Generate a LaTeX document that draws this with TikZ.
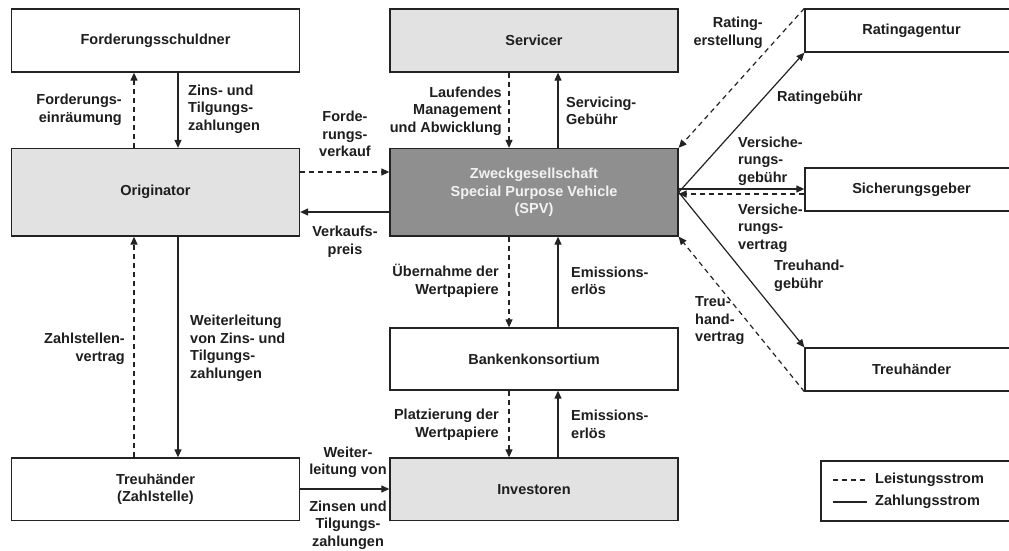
\documentclass[tikz,border=0pt]{standalone}
\usepackage{fontspec}
\setmainfont{Liberation Sans}
\usetikzlibrary{arrows.meta,calc}
\definecolor{lg}{RGB}{226,226,226}
\definecolor{dg}{RGB}{143,143,143}
\definecolor{ln}{RGB}{35,35,35}
\definecolor{tx}{RGB}{30,30,30}
\begin{document}
\begin{tikzpicture}[x=1pt,y=-1pt,
  font=\fontsize{14.5}{17.5}\selectfont\bfseries,
  box/.style={draw=ln, line width=1.3pt, fill=white, inner sep=0pt, align=center, text=tx},
  lbl/.style={inner sep=0pt, text=tx},
  pay/.style={draw=ln, line width=1.2pt, -{Triangle[length=8pt,width=7pt]}},
  srv/.style={pay, dash pattern=on 5pt off 4pt},
  plain/.style={draw=ln, line width=1.2pt}]
\useasboundingbox (0,0) rectangle (1009,551);
\clip (0,0) rectangle (1009,551);
\fill[white] (0,0) rectangle (1009,551);

% boxes
\node[box, minimum width=288pt, minimum height=63pt] (FS) at (155.5,40.5) {Forderungsschuldner};
\node[box, fill=lg, minimum width=288pt, minimum height=87.5pt] (Orig) at (155.5,192.25) {Originator};
\node[box, fill=lg, minimum width=288pt, minimum height=63pt] (Serv) at (534,40.5) {Servicer};
\node[box, fill=dg, text=white!95!black, minimum width=288pt, minimum height=87.5pt] (SPV) at (534,192.25) {Zweckgesellschaft\\Special Purpose Vehicle\\(SPV)};
\node[box, minimum width=288pt, minimum height=62pt] (Bank) at (534,359) {Bankenkonsortium};
\node[box, fill=lg, minimum width=288pt, minimum height=62.5pt] (Inv) at (534,489.25) {Investoren};
\node[box, minimum width=288pt, minimum height=62.5pt] (TZ) at (155.5,489.25) {Treuhänder\\(Zahlstelle)};
\node[box, minimum width=213pt, minimum height=43pt] (Rating) at (911.5,30.5) {Ratingagentur};
\node[box, minimum width=213pt, minimum height=43pt] (Sich) at (911.5,189.5) {Sicherungsgeber};
\node[box, minimum width=213pt, minimum height=43pt] (Treuh) at (911.5,369.5) {Treuhänder};

% helper coordinates
\coordinate (xa) at (134,0);
\coordinate (xb) at (178,0);
\coordinate (xc) at (509,0);
\coordinate (xd) at (558,0);
\coordinate (ya) at (0,172);
\coordinate (yb) at (0,212);
\coordinate (yc) at (0,489);
\coordinate (yd) at (0,189);
\coordinate (ye) at (0,194);

% left column
\draw[srv] (Orig.north -| xa) -- (FS.south -| xa);
\draw[pay] (FS.south -| xb) -- (Orig.north -| xb);
\draw[srv] (TZ.north -| xa) -- (Orig.south -| xa);
\draw[pay] (Orig.south -| xb) -- (TZ.north -| xb);
% Originator - SPV
\draw[srv] (Orig.east |- ya) -- (SPV.west |- ya);
\draw[pay] (SPV.west |- yb) -- (Orig.east |- yb);
% centre column
\draw[srv] (Serv.south -| xc) -- (SPV.north -| xc);
\draw[pay] (SPV.north -| xd) -- (Serv.south -| xd);
\draw[srv] (SPV.south -| xc) -- (Bank.north -| xc);
\draw[pay] (Bank.north -| xd) -- (SPV.south -| xd);
\draw[srv] (Bank.south -| xc) -- (Inv.north -| xc);
\draw[pay] (Inv.north -| xd) -- (Bank.south -| xd);
% Treuhaender -> Investoren
\draw[pay] (TZ.east |- yc) -- (Inv.west |- yc);
% right side
\draw[srv] (Rating.north west) -- (SPV.north east);
\draw[pay] (SPV.east) -- (Rating.south west);
\draw[pay] (SPV.east |- yd) -- (Sich.west |- yd);
\draw[srv] (Sich.west |- ye) -- (SPV.east |- ye);
\draw[pay] (SPV.east) -- (Treuh.north west);
\draw[srv] (Treuh.south west) -- (SPV.south east);

% labels
\node[lbl, anchor=east, align=right] (l1) at (122,110) {Forderungs-\\einräumung};
\node[lbl, anchor=west, align=left] (l2) at (188,109) {Zins- und\\Tilgungs-\\zahlungen};
\node[lbl, align=center] (l3) at (345,134) {Forde-\\rungs-\\verkauf};
\node[lbl, align=center] (l4) at (345,241.5) {Verkaufs-\\preis};
\node[lbl, anchor=east, align=right] (l5) at (502,111) {Laufendes\\Management\\und Abwicklung};
\node[lbl, anchor=west, align=left] (l6) at (566,111) {Servicing-\\Gebühr};
\node[lbl, anchor=east, align=right] (l7) at (499,281) {Übernahme der\\Wertpapiere};
\node[lbl, anchor=west, align=left] (l8) at (571,281) {Emissions-\\erlös};
\node[lbl, anchor=east, align=right] (l9) at (499,424.5) {Platzierung der\\Wertpapiere};
\node[lbl, anchor=west, align=left] (l10) at (571,424.5) {Emissions-\\erlös};
\node[lbl, anchor=east, align=right] (l11) at (125,349) {Zahlstellen-\\vertrag};
\node[lbl, anchor=west, align=left] (l12) at (190,348.5) {Weiterleitung\\von Zins- und\\Tilgungs-\\zahlungen};
\node[lbl, align=center] (l13) at (348,462.5) {Weiter-\\leitung von};
\node[lbl, align=center] (l14) at (348,525) {Zinsen und\\Tilgungs-\\zahlungen};
\node[lbl, anchor=east, align=right] (l15) at (763,33) {Rating-\\erstellung};
\node[lbl, anchor=west, align=left] (l16) at (777,98) {Ratingebühr};
\node[lbl, anchor=west, align=left] (l17) at (738,161) {Versiche-\\rungs-\\gebühr};
\node[lbl, anchor=west, align=left] (l18) at (738,228) {Versiche-\\rungs-\\vertrag};
\node[lbl, anchor=west, align=left] (l19) at (774,276) {Treuhand-\\gebühr};
\node[lbl, anchor=west, align=left] (l20) at (695,321) {Treu-\\hand-\\vertrag};

% legend
\node[box, minimum width=199pt, minimum height=60pt] (Leg) at (920.5,491) {};
\coordinate (la1) at (833,480);
\coordinate (la2) at (867,480);
\coordinate (lb1) at (833,502);
\coordinate (lb2) at (867,502);
\draw[plain, dash pattern=on 5pt off 4pt] (la1) -- (la2);
\draw[plain] (lb1) -- (lb2);
\node[lbl, anchor=west] (lt1) at (875,480) {Leistungsstrom};
\node[lbl, anchor=west] (lt2) at (875,502) {Zahlungsstrom};
\end{tikzpicture}
\end{document}
